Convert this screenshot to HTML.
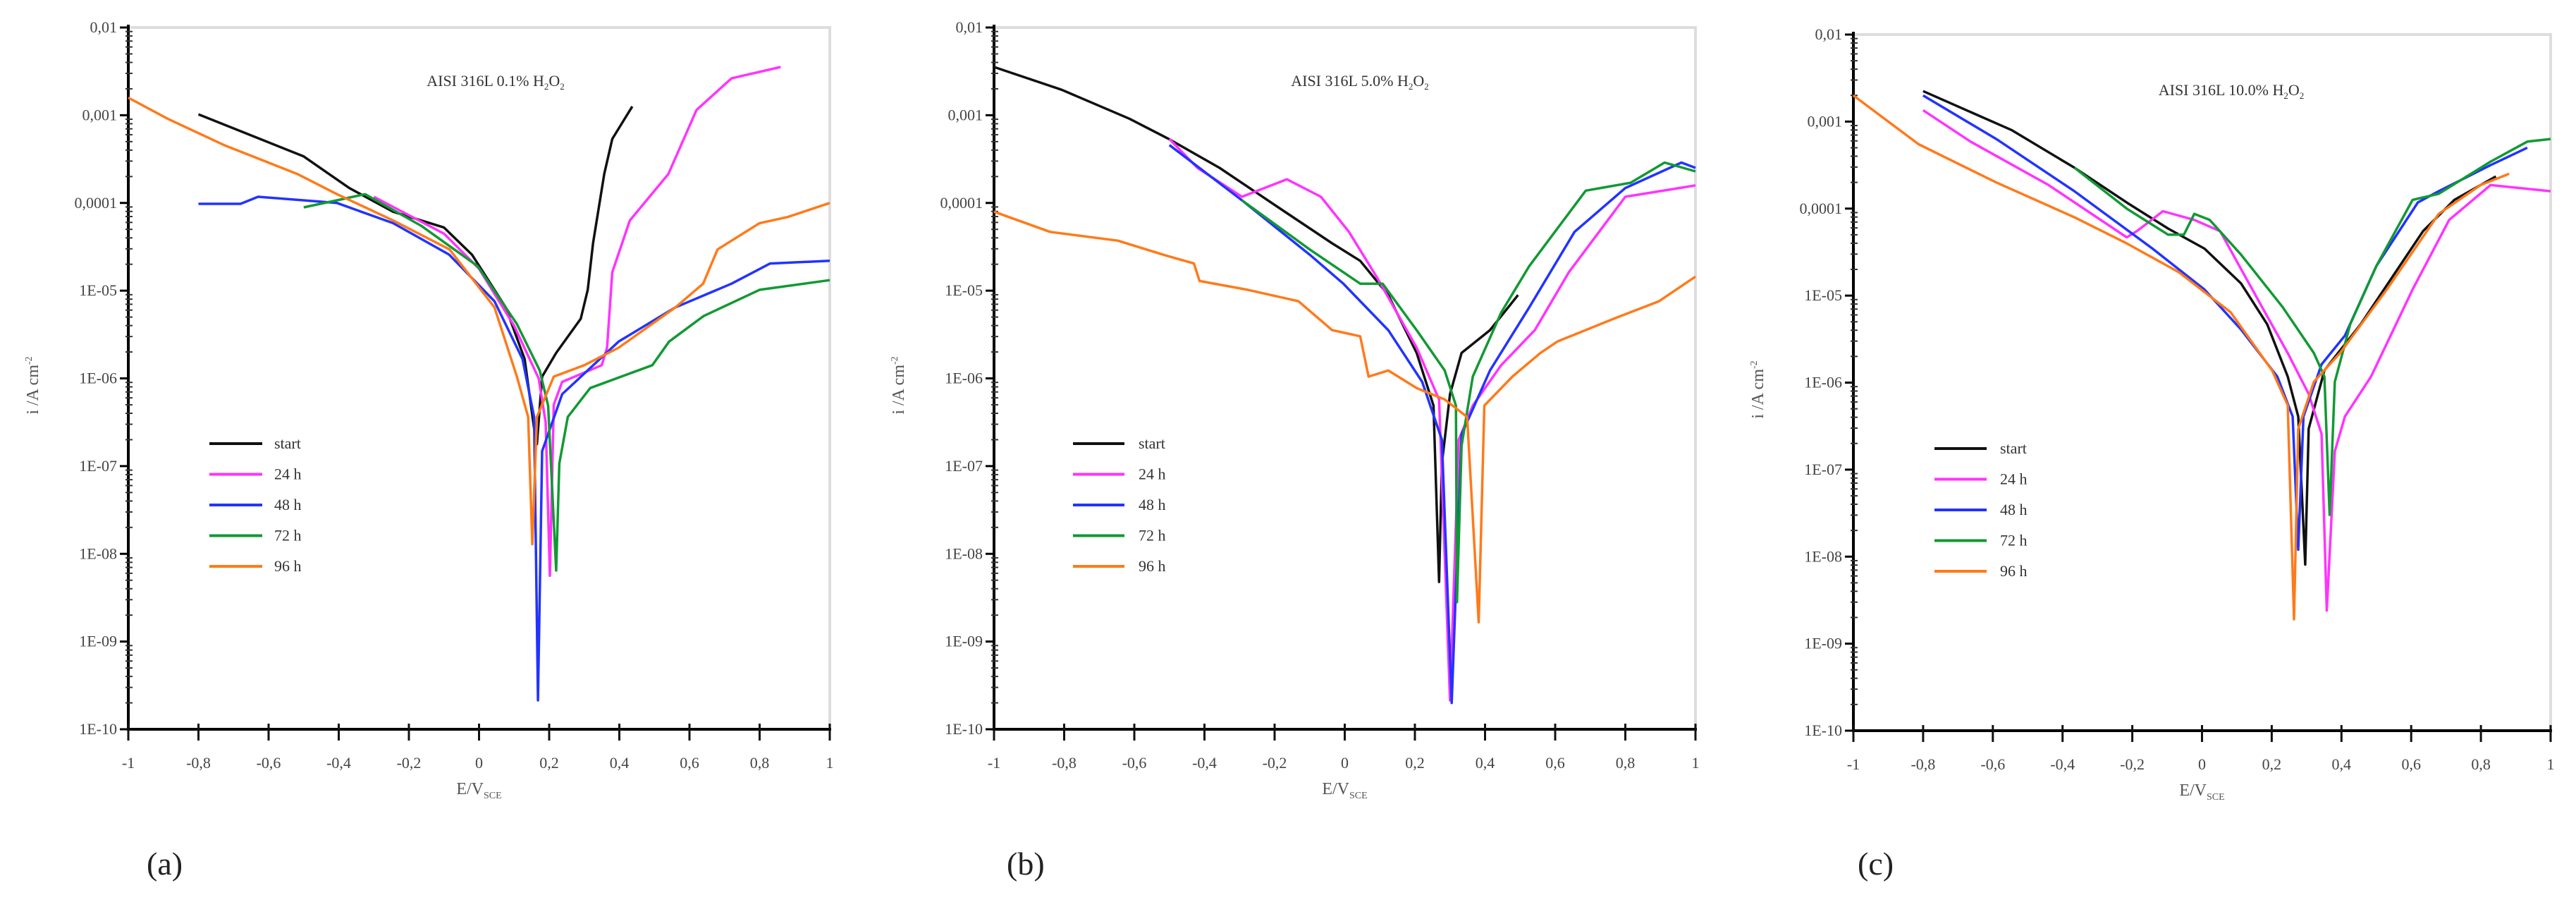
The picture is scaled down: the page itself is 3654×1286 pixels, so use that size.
<!DOCTYPE html>
<html><head><meta charset="utf-8"><style>
html,body{margin:0;padding:0;background:#fff;}
svg{display:block;}
text{font-family:"Liberation Serif",serif;}
</style></head><body>
<svg id="chart" width="3654" height="1286" viewBox="0 0 3654 1286" xmlns="http://www.w3.org/2000/svg"></svg>
<script>
// ---- data (E in V_SCE, log10 of i in A/cm2) ----
const xTicks = [-1,-0.8,-0.6,-0.4,-0.2,0,0.2,0.4,0.6,0.8,1];
const xTickLabels = ["-1","-0,8","-0,6","-0,4","-0,2","0","0,2","0,4","0,6","0,8","1"];
const yTicks = [-2,-3,-4,-5,-6,-7,-8,-9,-10];
const yTickLabels = ["0,01","0,001","0,0001","1E-05","1E-06","1E-07","1E-08","1E-09","1E-10"];
const seriesNames = ["start","24 h","48 h","72 h","96 h"];
const seriesColors = ["#111111","#ff33ff","#2233ff","#119933","#ff7a1a"];
const panelTitles = ["AISI 316L 0.1% H","AISI 316L 5.0% H","AISI 316L 10.0% H"];
const panelLetters = ["(a)","(b)","(c)"];

// Panel a
const aStartE = [-0.80,-0.50,-0.37,-0.245,-0.10,-0.02,0.076,0.13,0.157,0.165,0.18,0.22,0.29,0.31,0.325,0.357,0.38,0.437];
const aStartI = [-2.99,-3.47,-3.83,-4.10,-4.28,-4.59,-5.19,-5.78,-6.57,-6.75,-5.98,-5.71,-5.32,-4.99,-4.46,-3.67,-3.27,-2.90];
const a24E = [-0.30,-0.10,0.0,0.10,0.17,0.19,0.202,0.213,0.237,0.35,0.365,0.38,0.43,0.54,0.62,0.72,0.86];
const a24I = [-3.93,-4.35,-4.75,-5.40,-6.00,-6.50,-8.25,-6.30,-6.04,-5.85,-5.65,-4.79,-4.20,-3.67,-2.94,-2.58,-2.45];
const a48E = [-0.80,-0.68,-0.63,-0.405,-0.245,-0.085,0.044,0.124,0.157,0.168,0.18,0.237,0.398,0.56,0.72,0.83,1.0];
const a48I = [-4.01,-4.01,-3.93,-4.00,-4.23,-4.59,-5.12,-5.78,-6.44,-9.67,-6.83,-6.18,-5.58,-5.19,-4.92,-4.69,-4.66];
const a72E = [-0.50,-0.405,-0.325,-0.165,-0.004,0.108,0.173,0.197,0.22,0.229,0.253,0.317,0.494,0.542,0.64,0.80,1.0];
const a72I = [-4.05,-3.97,-3.90,-4.26,-4.72,-5.38,-5.91,-6.31,-8.19,-6.97,-6.44,-6.11,-5.85,-5.58,-5.29,-4.99,-4.88];
const a96E = [-1.0,-0.888,-0.727,-0.518,-0.405,-0.245,-0.084,0.044,0.108,0.14,0.152,0.165,0.213,0.30,0.398,0.56,0.639,0.68,0.80,0.88,1.0];
const a96I = [-2.80,-3.04,-3.34,-3.67,-3.90,-4.20,-4.53,-5.19,-5.98,-6.44,-7.89,-6.44,-5.98,-5.85,-5.65,-5.19,-4.92,-4.53,-4.23,-4.16,-4.00];

// Panel b
const bStartE = [-1.0,-0.807,-0.614,-0.502,-0.357,-0.197,-0.036,0.044,0.124,0.205,0.253,0.269,0.277,0.30,0.333,0.414,0.494];
const bStartI = [-2.45,-2.71,-3.04,-3.27,-3.60,-4.03,-4.46,-4.66,-5.05,-5.71,-6.31,-8.32,-6.97,-6.18,-5.71,-5.45,-5.05];
const b24E = [-0.50,-0.42,-0.293,-0.165,-0.068,0.012,0.092,0.205,0.269,0.30,0.325,0.365,0.446,0.542,0.639,0.80,1.0];
const b24I = [-3.27,-3.60,-3.93,-3.73,-3.93,-4.33,-4.85,-5.65,-6.24,-9.67,-6.70,-6.31,-5.85,-5.45,-4.79,-3.93,-3.80];
const b48E = [-0.50,-0.293,-0.10,-0.004,0.124,0.221,0.277,0.305,0.333,0.414,0.526,0.655,0.80,0.96,1.0];
const b48I = [-3.34,-3.97,-4.59,-4.92,-5.45,-6.04,-6.70,-9.70,-6.64,-5.91,-5.19,-4.33,-3.83,-3.54,-3.60];
const b72E = [-0.293,-0.10,0.044,0.108,0.205,0.285,0.317,0.32,0.333,0.365,0.446,0.526,0.687,0.815,0.912,1.0];
const b72I = [-3.97,-4.53,-4.92,-4.92,-5.45,-5.91,-6.31,-8.55,-6.77,-5.98,-5.25,-4.72,-3.86,-3.77,-3.54,-3.64];
const b96E = [-1.0,-0.84,-0.647,-0.518,-0.43,-0.414,-0.277,-0.132,-0.036,0.044,0.068,0.124,0.205,0.285,0.349,0.382,0.398,0.478,0.558,0.606,0.767,0.896,1.0];
const b96I = [-4.10,-4.33,-4.43,-4.59,-4.69,-4.89,-4.99,-5.12,-5.45,-5.52,-5.98,-5.91,-6.11,-6.24,-6.44,-8.78,-6.31,-5.98,-5.71,-5.58,-5.32,-5.12,-4.84];

// Panel c
const cStartE = [-0.80,-0.545,-0.366,-0.216,-0.097,0.007,0.112,0.187,0.246,0.276,0.296,0.306,0.351,0.455,0.634,0.724,0.843];
const cStartI = [-2.65,-3.10,-3.53,-3.93,-4.23,-4.46,-4.86,-5.33,-5.93,-6.39,-8.09,-6.53,-5.86,-5.33,-4.26,-3.90,-3.63];
const c24E = [-0.80,-0.664,-0.44,-0.216,-0.187,-0.112,-0.022,0.052,0.172,0.246,0.306,0.343,0.358,0.381,0.41,0.485,0.604,0.709,0.828,1.0];
const c24I = [-2.87,-3.23,-3.73,-4.33,-4.26,-4.03,-4.13,-4.26,-5.13,-5.66,-6.13,-6.59,-8.62,-6.79,-6.39,-5.93,-4.93,-4.13,-3.73,-3.80];
const c48E = [-0.80,-0.59,-0.366,-0.142,0.007,0.112,0.216,0.26,0.276,0.291,0.343,0.41,0.50,0.619,0.679,0.828,0.933];
const c48I = [-2.70,-3.20,-3.80,-4.46,-4.93,-5.39,-5.93,-6.39,-7.92,-6.39,-5.79,-5.46,-4.66,-3.93,-3.80,-3.50,-3.30];
const c72E = [-0.366,-0.216,-0.097,-0.052,-0.022,0.022,0.112,0.231,0.321,0.351,0.366,0.381,0.425,0.50,0.604,0.679,0.828,0.933,1.0];
const c72I = [-3.53,-4.00,-4.30,-4.30,-4.06,-4.13,-4.53,-5.13,-5.66,-5.93,-7.52,-5.99,-5.33,-4.66,-3.90,-3.83,-3.46,-3.23,-3.20];
const c96E = [-1.0,-0.813,-0.59,-0.366,-0.216,-0.067,0.082,0.201,0.246,0.264,0.276,0.321,0.396,0.53,0.679,0.799,0.881];
const c96I = [-2.70,-3.26,-3.70,-4.10,-4.40,-4.73,-5.19,-5.86,-6.26,-8.72,-6.53,-5.99,-5.66,-4.93,-4.06,-3.73,-3.60];

const panelsE = [[aStartE,a24E,a48E,a72E,a96E],[bStartE,b24E,b48E,b72E,b96E],[cStartE,c24E,c48E,c72E,c96E]];
const panelsI = [[aStartI,a24I,a48I,a72I,a96I],[bStartI,b24I,b48I,b72I,b96I],[cStartI,c24I,c48I,c72I,c96I]];

// ---- layout ----
const frames = [
  {x0:182,x1:1177,y0:39,y1:1034,leg:[297,372,389,629],title:703,titleY:122,letterX:208},
  {x0:1410,x1:2405,y0:39,y1:1034,leg:[1522,1595,1615,629],title:1929,titleY:122,letterX:1428},
  {x0:2629,x1:3618,y0:49,y1:1036,leg:[2744,2818,2837,636],title:3165,titleY:135,letterX:2635}
];
const NS="http://www.w3.org/2000/svg";
const svg=document.getElementById('chart');
function mk(tag,attrs,parent){const e=document.createElementNS(NS,tag);for(const k in attrs)e.setAttribute(k,attrs[k]);(parent||svg).appendChild(e);return e;}

frames.forEach((f,p)=>{
  const g=mk('g',{});
  
  
  const xs=v=>f.x0+(v+1)/2*(f.x1-f.x0);
  const ys=v=>f.y0+(-2-v)/8*(f.y1-f.y0);
  const fr=mk('path',{d:`M${f.x0},${f.y0}H${f.x1}V${f.y1}`,fill:'none',stroke:'#dddddd','stroke-width':4},g);
  
  
  const ax=mk('path',{d:`M${f.x0},${f.y0-4}V${f.y1}H${f.x1+2}`,fill:'none',stroke:'#000','stroke-width':4},g);
  
  
  yTicks.forEach((t,i)=>{
    const y=ys(t);
    mk('line',{x1:f.x0-12,x2:f.x0,y1:y,y2:y,stroke:'#000','stroke-width':3},g);
    const tx=mk('text',{x:f.x0-16,y:y+7,'text-anchor':'end','font-size':22,fill:'#444'},g);
    tx.textContent=yTickLabels[i];
    
    
    if(t>-10){for(let m=2;m<=9;m++){const ym=ys(t-1+Math.log10(m));mk('line',{x1:f.x0-4,x2:f.x0+6,y1:ym,y2:ym,stroke:'#333','stroke-width':2},g);}}
  });
  xTicks.forEach((t,i)=>{
    const x=xs(t);
    mk('line',{x1:x,x2:x,y1:f.y1-8,y2:f.y1+16,stroke:'#111','stroke-width':3},g);
    const tx=mk('text',{x:x,y:f.y1+55,'text-anchor':'middle','font-size':22,fill:'#444'},g);
    tx.textContent=xTickLabels[i];
    
    
  });
  const xt=mk('text',{x:(f.x0+f.x1)/2,y:f.y1+92,'text-anchor':'middle','font-size':24,fill:'#555'},g);
  xt.innerHTML='E/V<tspan font-size="14" dy="6">SCE</tspan>';
  
  
  const yt=mk('text',{x:0,y:0,'text-anchor':'middle','font-size':24,fill:'#555',transform:`translate(${f.x0-128},${(f.y0+f.y1)/2+10}) rotate(-90)`},g);
  yt.innerHTML='i /A cm<tspan font-size="14" dy="-9">-2</tspan>';
  
  
  const tt=mk('text',{x:f.title,y:f.titleY,'text-anchor':'middle','font-size':22,fill:'#333'},g);
  tt.innerHTML=panelTitles[p]+'<tspan font-size="13" dy="5">2</tspan><tspan dy="-5">O</tspan><tspan font-size="13" dy="5">2</tspan>';
  
  
  panelsE[p].forEach((E,s)=>{
    const I=panelsI[p][s];
    const d=E.map((e,k)=>(k?'L':'M')+xs(e).toFixed(1)+','+ys(I[k]).toFixed(1)).join('');
    const pl=mk('path',{d:d,fill:'none',stroke:seriesColors[s],'stroke-width':3.5,'stroke-linejoin':'round'},g);
    
    
  });
  const [lx1,lx2,ltx,ly]=f.leg;
  seriesNames.forEach((n,s)=>{
    const y=ly+s*43.5;
    const lg=mk('g',{},g);
    
    
    mk('line',{x1:lx1,x2:lx2,y1:y,y2:y,stroke:seriesColors[s],'stroke-width':4},lg);
    const t=mk('text',{x:ltx,y:y+7,'font-size':22,fill:'#333'},lg);
    t.textContent=n;
  });
  const lt=mk('text',{x:f.letterX,y:1240,'font-size':46,fill:'#222','font-family':'Liberation Sans, sans-serif'},g);
  lt.textContent=panelLetters[p];
  
  
});
</script>
</body></html>
